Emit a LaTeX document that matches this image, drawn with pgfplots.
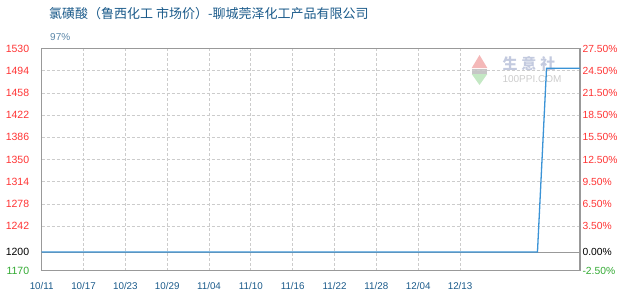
\documentclass[border=0pt]{standalone}
\usepackage{fontspec}
\setmainfont{Liberation Sans}
\newfontfamily\cjk{Noto Sans CJK SC}
\usepackage{pgfplots}
\pgfplotsset{compat=1.18}

\definecolor{titleblue}{HTML}{1A5A8A}
\definecolor{subblue}{HTML}{5A86A8}
\definecolor{tickred}{HTML}{FF3333}
\definecolor{tickgreen}{HTML}{33AA33}
\definecolor{framegray}{HTML}{999999}
\definecolor{gridgray}{HTML}{CCCCCC}
\definecolor{lineblue}{HTML}{3A93D6}
\definecolor{logopink}{HTML}{F4B8B8}
\definecolor{logogreen}{HTML}{C4E8C4}
\definecolor{logotext}{HTML}{C3CADF}
\definecolor{logourl}{HTML}{CCCCCC}

\begin{document}
\begin{tikzpicture}
\path[use as bounding box] (0pt,0pt) rectangle (630pt,-300pt);

% heading
\node[anchor=west,inner sep=0pt,text=titleblue,font=\cjk\fontsize{13}{15}\selectfont]
  at (49pt,-14pt) {氯磺酸（鲁西化工 市场价）-聊城莞泽化工产品有限公司};
\node[anchor=west,inner sep=0pt,text=subblue,font=\fontsize{10}{12}\selectfont]
  at (50pt,-37pt) {97\%};

% logo mark
\fill[logopink] (471.7pt,-68pt) -- (479.5pt,-55pt) -- (487.3pt,-68pt) -- cycle;
\fill[logogreen] (471.7pt,-74pt) -- (479.5pt,-85pt) -- (487.3pt,-74pt) -- cycle;
\fill[gray!45] (471.7pt,-68.5pt) rectangle (487.3pt,-73.5pt);
\node[text=logotext,font=\cjk\bfseries\fontsize{15}{16}\selectfont,inner sep=0pt]
  at (529pt,-64pt) {生\hspace{4pt}意\hspace{4pt}社};
\node[text=logourl,font=\fontsize{10}{11}\selectfont,inner sep=0pt]
  at (532pt,-79.5pt) {100PPI.COM};

\begin{axis}[
  at={(41.7pt,-270.5pt)}, anchor=south west,
  width=538.3pt, height=222pt, scale only axis,
  xmin=0, xmax=77.2, ymin=1170, ymax=1530,
  xtick={0,6,...,60},
  xticklabels={10/11,10/17,10/23,10/29,11/04,11/10,11/16,11/22,11/28,12/04,12/13},
  ytick={1170,1200,1242,1278,1314,1350,1386,1422,1458,1494,1530},
  yticklabels={\textcolor{tickgreen}{1170},\textcolor{black}{1200},1242,1278,1314,1350,1386,1422,1458,1494,1530},
  yticklabel style={text=tickred,font=\fontsize{10.5}{12}\selectfont,xshift=-9pt},
  xticklabel style={text=titleblue,font=\fontsize{9.8}{11}\selectfont,yshift=-8pt},
  tick style={draw=none},
  axis line style={draw=framegray,line width=1.3pt},
  grid=major,
  major grid style={gridgray,line width=0.8pt,dash pattern=on 3pt off 2pt},
]
  % base level
  \addplot[framegray,line width=1pt] coordinates {(0,1200) (77.2,1200)};
  % price series
  \addplot[lineblue,line width=1.3pt] coordinates {
    (0,1200) (71.1,1200) (72.4,1498) (77.2,1498)
  };
\end{axis}

% change relative to 1200, right-hand scale
\begin{axis}[
  at={(41.7pt,-270.5pt)}, anchor=south west,
  width=538.3pt, height=222pt, scale only axis,
  xmin=0, xmax=77.2, ymin=-2.5, ymax=27.5,
  xtick=\empty,
  yticklabel pos=right,
  ytick={-2.5,0,3.5,6.5,9.5,12.5,15.5,18.5,21.5,24.5,27.5},
  yticklabels={\textcolor{tickgreen}{-2.50\%},\textcolor{black}{0.00\%},3.50\%,6.50\%,9.50\%,12.50\%,15.50\%,18.50\%,21.50\%,24.50\%,27.50\%},
  yticklabel style={text=tickred,font=\fontsize{10.3}{12}\selectfont,xshift=-1pt},
  tick style={draw=none},
  axis line style={draw=none},
]
\end{axis}
\end{tikzpicture}
\end{document}
